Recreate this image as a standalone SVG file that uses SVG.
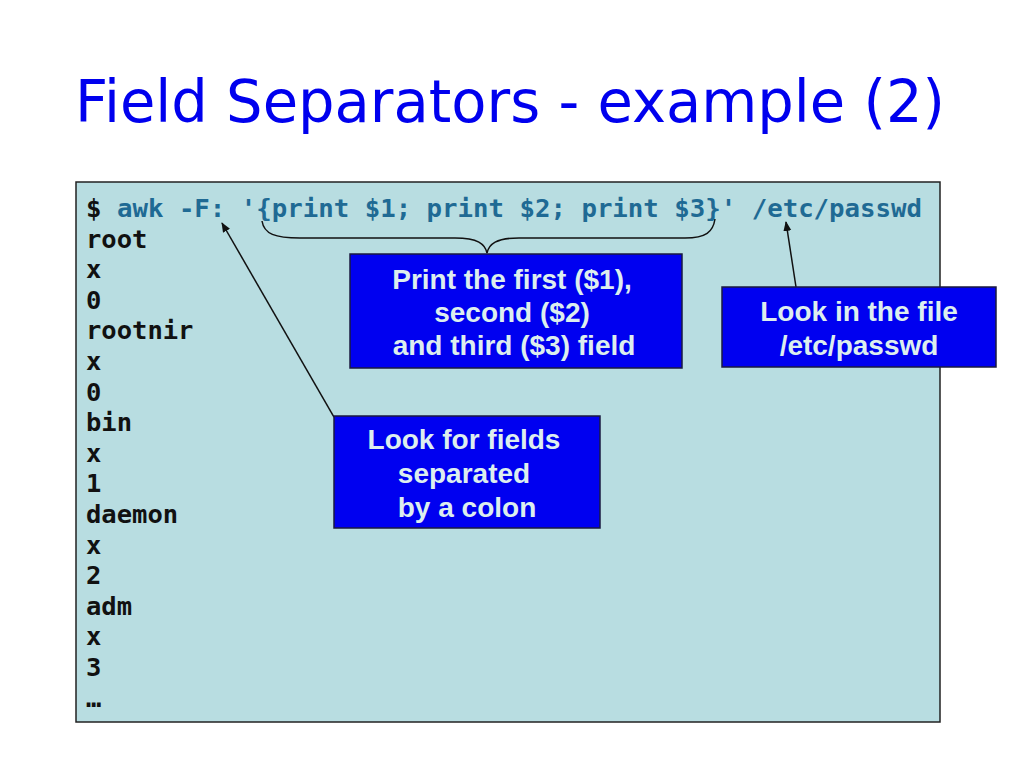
<svg xmlns="http://www.w3.org/2000/svg" width="1024" height="768" viewBox="0 0 1024 768">
<defs>
<style>
.title{font-family:"DejaVu Sans",Verdana,sans-serif;font-size:58px;fill:#0000EE}
.mono{font-family:"DejaVu Sans Mono","Liberation Mono",monospace;font-size:25.5px;font-weight:bold;fill:#111}
.cmd{fill:#1F6A94}
.box{fill:#0000F0;stroke:#1a1a40;stroke-width:1.5}
.lbl{font-family:"Liberation Sans",Arial,sans-serif;font-weight:bold;font-size:28px;fill:#DDEEEE;text-anchor:middle}
.con{fill:none;stroke:#111;stroke-width:1.5}
</style>
<marker id="ah" markerWidth="10" markerHeight="10" refX="9" refY="5" orient="auto" markerUnits="userSpaceOnUse">
<path d="M0,1 L10,5 L0,9 Z" fill="#111"/>
</marker>
</defs>
<rect width="1024" height="768" fill="#fff"/>
<text class="title" x="75" y="122" textLength="870" lengthAdjust="spacingAndGlyphs">Field Separators - example (2)</text>
<g id="terminal">
<rect x="76" y="182" width="864" height="540" fill="#B8DDE1" stroke="#222" stroke-width="1.5"/>
<text class="mono" x="86" y="217" textLength="836" lengthAdjust="spacingAndGlyphs">$ <tspan class="cmd">awk -F: '{print $1; print $2; print $3}' /etc/passwd</tspan></text>
<text class="mono" x="86" y="247.6">root</text>
<text class="mono" x="86" y="278.2">x</text>
<text class="mono" x="86" y="308.8">0</text>
<text class="mono" x="86" y="339.4">rootnir</text>
<text class="mono" x="86" y="370">x</text>
<text class="mono" x="86" y="400.6">0</text>
<text class="mono" x="86" y="431.2">bin</text>
<text class="mono" x="86" y="461.8">x</text>
<text class="mono" x="86" y="492.4">1</text>
<text class="mono" x="86" y="523">daemon</text>
<text class="mono" x="86" y="553.6">x</text>
<text class="mono" x="86" y="584.2">2</text>
<text class="mono" x="86" y="614.8">adm</text>
<text class="mono" x="86" y="645.4">x</text>
<text class="mono" x="86" y="676">3</text>
<text class="mono" x="86" y="706.6">…</text>
</g>
<g id="connectors">
<path class="con" d="M262,221 C264,234 275,238 300,238 L455,238 C478,238 485,244 487,253 C489,244 496,238 519,238 L685,238 C706,238 713,232 715,219"/>
<line class="con" x1="334" y1="417" x2="222" y2="223" marker-end="url(#ah)"/>
<line class="con" x1="796" y1="287" x2="786" y2="222" marker-end="url(#ah)"/>
</g>
<g id="box-print">
<rect class="box" x="350" y="254" width="332" height="114"/>
<text class="lbl" x="512" y="289">Print the first ($1),</text>
<text class="lbl" x="512" y="322">second ($2)</text>
<text class="lbl" x="514" y="355">and third ($3) field</text>
</g>
<g id="box-file">
<rect class="box" x="722" y="287" width="274" height="80"/>
<text class="lbl" x="859" y="321">Look in the file</text>
<text class="lbl" x="859" y="355">/etc/passwd</text>
</g>
<g id="box-colon">
<rect class="box" x="334" y="416" width="266" height="112"/>
<text class="lbl" x="464" y="449">Look for fields</text>
<text class="lbl" x="464" y="483">separated</text>
<text class="lbl" x="467" y="517">by a colon</text>
</g>
</svg>
